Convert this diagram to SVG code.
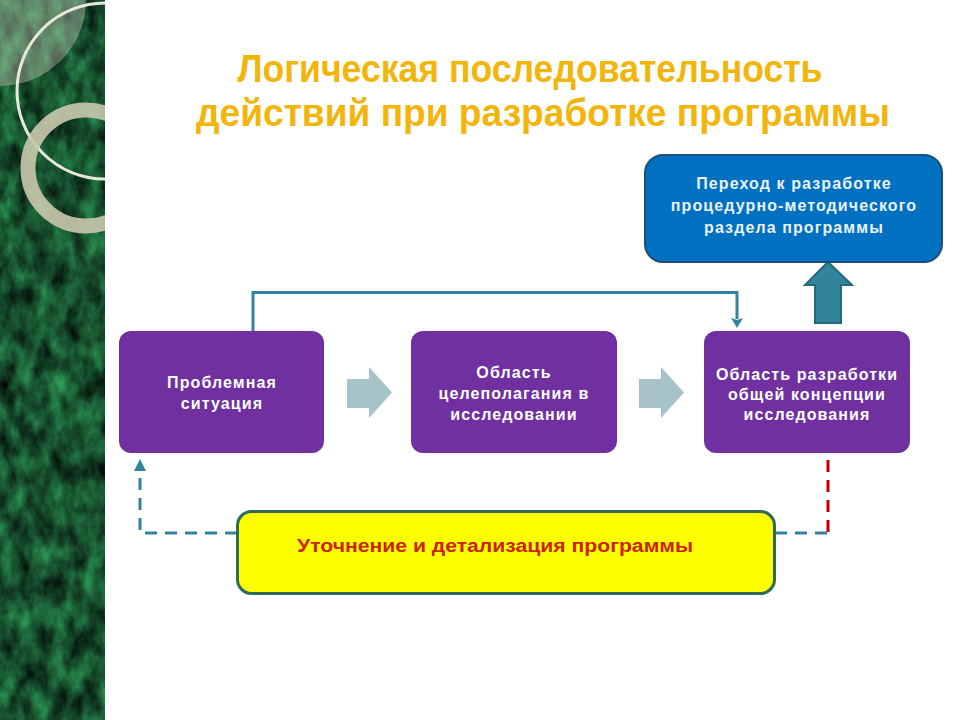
<svg xmlns="http://www.w3.org/2000/svg" width="960" height="720" viewBox="0 0 960 720">
<style>
.t{font-family:"Liberation Sans",Arial,sans-serif;font-weight:bold;}
.title{fill:#F2B50C;font-size:38px;text-anchor:middle;}
.box{fill:#7030A0;}
.bt{fill:#FFFFFF;font-size:16px;text-anchor:middle;letter-spacing:1.1px;}
.wt{fill:#EAF2FA;}
.gray{fill:#A8C2C9;}
.conn{fill:none;stroke:#31849B;stroke-width:3;}
.dash{fill:none;stroke:#31849B;stroke-width:3;stroke-dasharray:12 8;}
</style>
<defs>
<filter id="marble" x="0" y="0" width="1" height="1" filterUnits="objectBoundingBox" color-interpolation-filters="sRGB">
<feTurbulence type="fractalNoise" baseFrequency="0.06 0.035" numOctaves="5" seed="7" result="n"/>
<feColorMatrix in="n" type="matrix" values="0.22 0 0 0 -0.02  0.75 0 0 0 -0.06  0.42 0 0 0 -0.03  0 0 0 0 1"/>
</filter>
<clipPath id="strip"><rect x="0" y="0" width="105" height="720"/></clipPath>
</defs>
<rect x="0" y="0" width="960" height="720" fill="#FFFFFF"/>
<g id="background-strip">
<rect x="0" y="0" width="105" height="720" fill="#1B5A32"/>
<rect x="0" y="0" width="105" height="720" filter="url(#marble)"/>
<g clip-path="url(#strip)">
<circle cx="0" cy="0" r="86" fill="#E8E8D8" fill-opacity="0.35"/>
<circle cx="105" cy="91" r="88" fill="none" stroke="#E8E8DA" stroke-width="3"/>
<circle cx="86" cy="168" r="58" fill="none" stroke="#C9C9AE" stroke-opacity="0.9" stroke-width="15"/>
</g>
</g>
<g id="title">
<text class="t title" x="530" y="82" textLength="585" lengthAdjust="spacingAndGlyphs">Логическая последовательность</text>
<text class="t title" x="543" y="126" textLength="694" lengthAdjust="spacingAndGlyphs">действий при разработке программы</text>
</g>
<g id="connectors">
<polyline class="conn" points="253,332 253,292.5 737,292.5 737,319"/>
<path d="M731,318 L737,320 L743,318 L737,328 Z" fill="#31849B"/>
<polyline class="dash" points="237,533 140,533 140,470"/>
<path d="M134,471 L140,459 L146,471 Z" fill="#31849B"/>
<line class="dash" x1="775" y1="533" x2="828" y2="533"/>
<line x1="828" y1="532" x2="828" y2="458" stroke="#C00000" stroke-width="3" stroke-dasharray="12 8"/>
<path id="arrow-gray-1" class="gray" d="M347,379 L369,379 L369,367 L392,392.5 L369,418 L369,408 L347,408 Z"/>
<path id="arrow-gray-2" class="gray" d="M639,379 L661,379 L661,367 L684,392.5 L661,418 L661,408 L639,408 Z"/>
<path id="arrow-up" d="M815,323 L815,285 L805,285 L828,262 L852,285 L841,285 L841,323 Z" fill="#31849B" stroke="#246A7A" stroke-width="2"/>
</g>
<g id="node-transition">
<rect x="645" y="155" width="297" height="107" rx="18" fill="#0070C0" stroke="#1F4E79" stroke-width="2"/>
<text class="t bt wt" x="794" y="189">Переход к разработке</text>
<text class="t bt wt" x="794" y="211">процедурно-методического</text>
<text class="t bt wt" x="794" y="233">раздела программы</text>
</g>
<g id="node-problem">
<rect class="box" x="119" y="331" width="205" height="122" rx="12"/>
<text class="t bt" x="222" y="388">Проблемная</text>
<text class="t bt" x="222" y="409">ситуация</text>
</g>
<g id="node-goal">
<rect class="box" x="411" y="331" width="206" height="122" rx="12"/>
<text class="t bt" x="514" y="378">Область</text>
<text class="t bt" x="514" y="399">целеполагания в</text>
<text class="t bt" x="514" y="420">исследовании</text>
</g>
<g id="node-concept">
<rect class="box" x="704" y="331" width="206" height="122" rx="12"/>
<text class="t bt" x="807" y="380">Область разработки</text>
<text class="t bt" x="807" y="400">общей концепции</text>
<text class="t bt" x="807" y="420">исследования</text>
</g>
<g id="node-refine">
<rect x="237.5" y="511.5" width="537" height="82" rx="14" fill="#FFFF00" stroke="#2F6B5A" stroke-width="3"/>
<text class="t" x="495" y="552" font-size="18" fill="#CC2200" text-anchor="middle" textLength="396" lengthAdjust="spacingAndGlyphs">Уточнение и детализация программы</text>
</g>
</svg>
